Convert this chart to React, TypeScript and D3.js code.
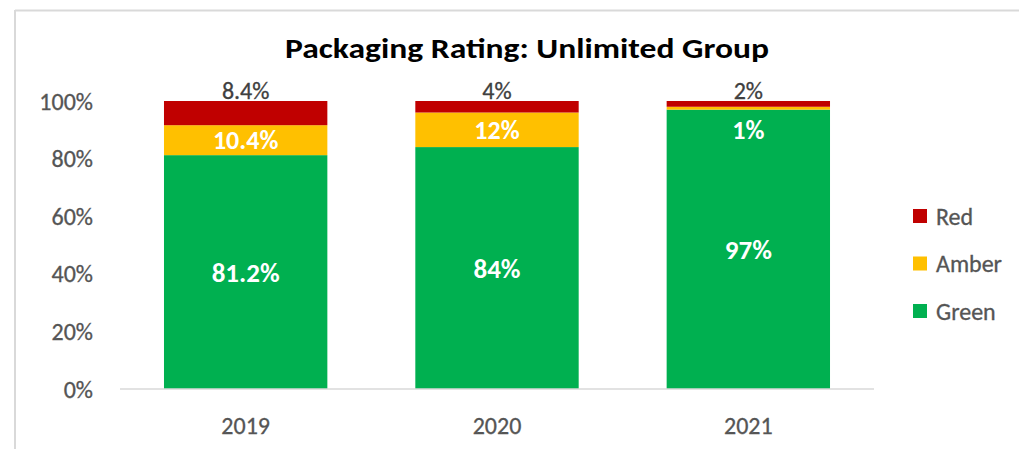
import React from "react";
import * as d3 from "d3";

const years = ["2019", "2020", "2021"];
const seriesNames = ["Green", "Amber", "Red"];
const green = [81.2, 84, 97];
const amber = [10.4, 12, 1];
const red = [8.4, 4, 2];
const greenLabels = ["81.2%", "84%", "97%"];
const amberLabels = ["10.4%", "12%", "1%"];
const redLabels = ["8.4%", "4%", "2%"];
const yTicks = [0, 20, 40, 60, 80, 100];
const colors: Record<string, string> = { Green: "#00B050", Amber: "#FFC000", Red: "#C00000" };
const legendOrder = ["Red", "Amber", "Green"];

const W = 1019;
const H = 449;
const FONT = "Carlito, Calibri, Lato, 'Open Sans', 'Noto Sans', sans-serif";

export default function App() {
  const x = d3.scaleBand<string>().domain(years).range([120, 874]).paddingInner(0.35).paddingOuter(0.175);
  const y = d3.scaleLinear().domain([0, 100]).range([389, 101]);
  const rows = years.map((yr, i) => ({ year: yr, Green: green[i], Amber: amber[i], Red: red[i] }));
  const stacked = d3.stack<any>().keys(seriesNames)(rows);

  return (
    <svg width={W} height={H} style={{ position: "absolute", left: 0, top: 0 }} fontFamily={FONT}>
      <rect x={0} y={0} width={W} height={H} fill="#fff" />
      <line x1={15} y1={10.5} x2={W} y2={10.5} stroke="#d9d9d9" strokeWidth={2} />
      <line x1={15} y1={10} x2={15} y2={H} stroke="#d9d9d9" strokeWidth={2} />
      <text x={527} y={58} textAnchor="middle" fontSize={28} fontWeight={700} fill="#000" textLength={484} lengthAdjust="spacingAndGlyphs">
        Packaging Rating: Unlimited Group
      </text>
      {yTicks.map((t) => (
        <text key={t} x={93} y={y(t) + 8.5} textAnchor="end" fontSize={24} fill="#555" stroke="#555" strokeWidth={0.3}>
          {t}%
        </text>
      ))}
      {stacked.map((s) => (
        <g key={s.key} fill={colors[s.key]}>
          {s.map((d, i) => (
            <rect key={i} x={x(years[i])} y={y(d[1])} width={x.bandwidth()} height={y(d[0]) - y(d[1])} />
          ))}
        </g>
      ))}
      <line x1={120} y1={389} x2={874} y2={389} stroke="#d9d9d9" strokeWidth={1.5} />
      {years.map((yr, i) => {
        const cx = (x(yr) as number) + x.bandwidth() / 2;
        const gy = y(green[i] / 2);
        const ay = Math.max(y(green[i] + amber[i] / 2), y(90));
        const ry = y(green[i] + amber[i] + red[i]) - 10.5;
        return (
          <g key={yr}>
            <text x={cx} y={gy + 9.5} textAnchor="middle" fontSize={27} fontWeight={700} fill="#fff">{greenLabels[i]}</text>
            <text x={cx} y={ay + 9} textAnchor="middle" fontSize={26} fontWeight={700} fill="#fff">{amberLabels[i]}</text>
            <text x={cx} y={ry + 8.5} textAnchor="middle" fontSize={24} fill="#404040" stroke="#404040" strokeWidth={0.3}>{redLabels[i]}</text>
            <text x={cx} y={434} textAnchor="middle" fontSize={24} fill="#555" stroke="#555" strokeWidth={0.3}>{yr}</text>
          </g>
        );
      })}
      {legendOrder.map((k, i) => (
        <g key={k}>
          <rect x={913} y={209 + i * 47.5} width={14} height={14} fill={colors[k]} />
          <text x={936} y={224.5 + i * 47.5} fontSize={24} fill="#555" stroke="#555" strokeWidth={0.3}>{k}</text>
        </g>
      ))}
    </svg>
  );
}
